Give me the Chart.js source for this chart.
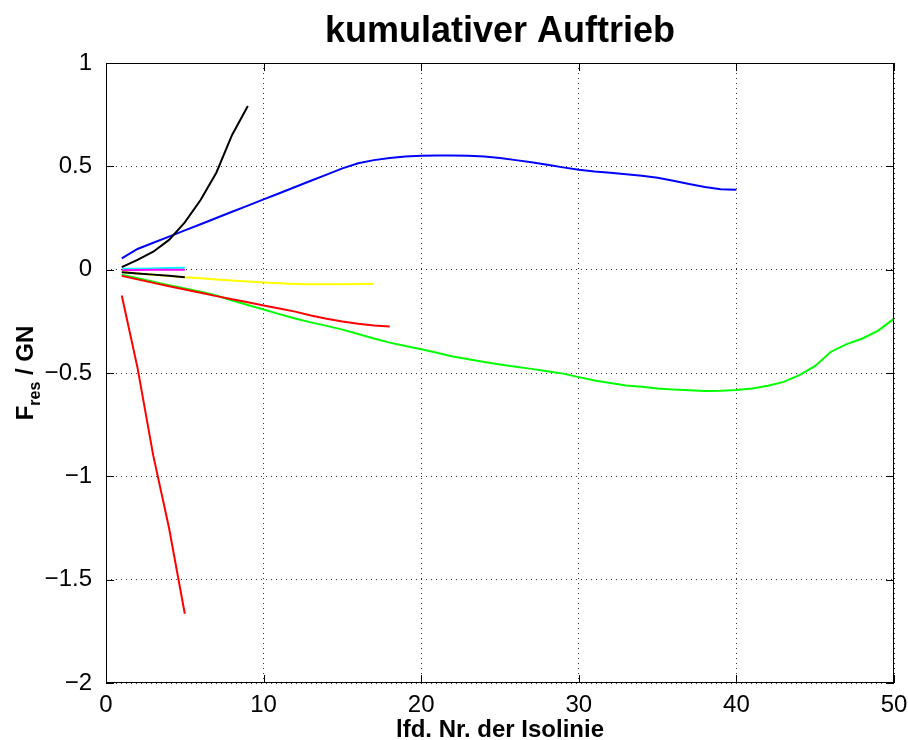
<!DOCTYPE html>
<html>
<head>
<meta charset="utf-8">
<script src="https://cdn.jsdelivr.net/npm/chart.js@4/dist/chart.umd.min.js"></script>
<style>
  html, body { margin: 0; padding: 0; background: #fff; }
  #wrap { width: 908px; height: 740px; }
</style>
</head>
<body>
<div id="wrap"><canvas id="chart" width="908" height="740"></canvas></div>
<script>
// Isolinien-Nr. laufen jeweils ab 1
const blau = [0.055, 0.10, 0.13, 0.16, 0.19, 0.22, 0.25, 0.28, 0.31, 0.34,
  0.37, 0.40, 0.43, 0.46, 0.49, 0.515, 0.53, 0.54, 0.547, 0.551,
  0.553, 0.553, 0.551, 0.547, 0.54, 0.53, 0.52, 0.508, 0.495, 0.483,
  0.475, 0.469, 0.462, 0.454, 0.445, 0.43, 0.415, 0.40, 0.389, 0.387]
const gruen = [-0.025, -0.042, -0.058, -0.075, -0.091, -0.107, -0.125, -0.149, -0.171, -0.193,
  -0.215, -0.236, -0.255, -0.272, -0.29, -0.311, -0.333, -0.353, -0.369, -0.385,
  -0.402, -0.42, -0.433, -0.447, -0.459, -0.47, -0.48, -0.491, -0.503, -0.52,
  -0.536, -0.548, -0.56, -0.567, -0.575, -0.58, -0.583, -0.587, -0.586, -0.582,
  -0.575, -0.562, -0.543, -0.51, -0.466, -0.397, -0.36, -0.333, -0.295, -0.237]
const rot = [-0.03, -0.047, -0.064, -0.08, -0.096, -0.112, -0.128, -0.143, -0.158, -0.173,
  -0.188, -0.203, -0.222, -0.238, -0.251, -0.262, -0.27, -0.275]
const cyan = [0.004, 0.005, 0.006, 0.008, 0.009]
const magenta = [-0.003, -0.002, -0.001, -0.001, 0.0]
const gelb = [-0.01, -0.018, -0.025, -0.031, -0.037, -0.042, -0.047, -0.052, -0.057, -0.062,
  -0.066, -0.069, -0.071, -0.071, -0.07, -0.069, -0.068]
const schwarz = [0.012, 0.047, 0.087, 0.144, 0.229, 0.337, 0.469, 0.652, 0.792]
const rotSteil = [-0.125, -0.475, -0.9, -1.25, -1.665]
const schwarzKurz = [-0.012, -0.018, -0.024, -0.03, -0.037]

const xTicks = [0, 10, 20, 30, 40, 50]
const yTicks = [-2, -1.5, -1, -0.5, 0, 0.5, 1]

const titel = "kumulativer Auftrieb"
const xTitel = "lfd. Nr. der Isolinie"

const font = "'Liberation Sans', Arial, Helvetica, sans-serif"

function punkte(werte){
    return werte.map((v, i) => ({x: i + 1, y: v}))
}

function linie(werte, farbe){
    return {
        data: punkte(werte),
        borderColor: farbe,
        borderWidth: 2,
        pointRadius: 0,
        fill: false,
        tension: 0
    }
}

// Rahmen, Ticks nach innen, Titel und Achsbeschriftungen wie bei MATLAB
const rahmen = {
    id: 'rahmen',
    afterDraw(chart){
        const {ctx, chartArea: a, scales: {x, y}} = chart
        ctx.save()
        ctx.strokeStyle = '#000'
        ctx.lineWidth = 1
        ctx.strokeRect(a.left + 0.5, a.top + 0.5, a.right - a.left - 1, a.bottom - a.top - 1)
        const len = 8
        ctx.beginPath()
        xTicks.forEach(t => {
            const px = Math.round(x.getPixelForValue(t)) + 0.5
            ctx.moveTo(px, a.bottom); ctx.lineTo(px, a.bottom - len)
            ctx.moveTo(px, a.top); ctx.lineTo(px, a.top + len)
        })
        yTicks.forEach(t => {
            const py = Math.round(y.getPixelForValue(t)) + 0.5
            ctx.moveTo(a.left, py); ctx.lineTo(a.left + len, py)
            ctx.moveTo(a.right, py); ctx.lineTo(a.right - len, py)
        })
        ctx.stroke()

        ctx.fillStyle = '#000'
        ctx.textAlign = 'center'
        ctx.textBaseline = 'alphabetic'
        ctx.font = "bold 36px " + font
        ctx.fillText(titel, (a.left + a.right) / 2, 42)
        ctx.font = "bold 24px " + font
        ctx.fillText(xTitel, (a.left + a.right) / 2, 737)

        // F_res / GN, gedreht
        const teile = [["F", "bold 24px ", 0], ["res", "bold 16px ", 7], [" / GN", "bold 24px ", 0]]
        let breite = 0
        teile.forEach(t => { ctx.font = t[1] + font; breite += ctx.measureText(t[0]).width })
        ctx.translate(33, (a.top + a.bottom) / 2)
        ctx.rotate(-Math.PI / 2)
        ctx.textAlign = 'left'
        let pos = -breite / 2
        teile.forEach(t => {
            ctx.font = t[1] + font
            ctx.fillText(t[0], pos, t[2])
            pos += ctx.measureText(t[0]).width
        })
        ctx.restore()
    }
}

const minus = v => String(v).replace('-', '\u2212')

new Chart(document.getElementById("chart"), {
    type: "line",
    data: {
        datasets: [
            linie(schwarzKurz, '#000000'),
            linie(rotSteil, '#ff0000'),
            linie(schwarz, '#000000'),
            linie(gelb, '#ffff00'),
            linie(magenta, '#ff00ff'),
            linie(cyan, '#00ffff'),
            linie(rot, '#ff0000'),
            linie(gruen, '#00ff00'),
            linie(blau, '#0000ff')
        ]
    },
    options: {
        responsive: false,
        animation: false,
        events: [],
        layout: {padding: {top: 63, right: 14, left: 0, bottom: 0}},
        plugins: {legend: {display: false}, title: {display: false}, tooltip: {enabled: false}},
        scales: {
            x: {
                type: 'linear',
                min: 0, max: 50,
                afterFit: s => { s.height = 57; s.paddingLeft = 0; s.paddingRight = 0 },
                afterBuildTicks: s => { s.ticks = xTicks.map(v => ({value: v})) },
                ticks: {color: '#000', font: {family: font, size: 24}, padding: 8, maxRotation: 0,
                    callback: minus},
                grid: {color: '#333', lineWidth: 1, drawTicks: false},
                border: {display: false, dash: [1, 4]}
            },
            y: {
                type: 'linear',
                min: -2, max: 1,
                afterFit: s => { s.width = 106; s.paddingTop = 0; s.paddingBottom = 0 },
                afterBuildTicks: s => { s.ticks = yTicks.map(v => ({value: v})) },
                ticks: {color: '#000', font: {family: font, size: 24}, padding: 14,
                    callback: minus},
                grid: {color: '#333', lineWidth: 1, drawTicks: false},
                border: {display: false, dash: [1, 4]}
            }
        }
    },
    plugins: [rahmen]
})
</script>
</body>
</html>
